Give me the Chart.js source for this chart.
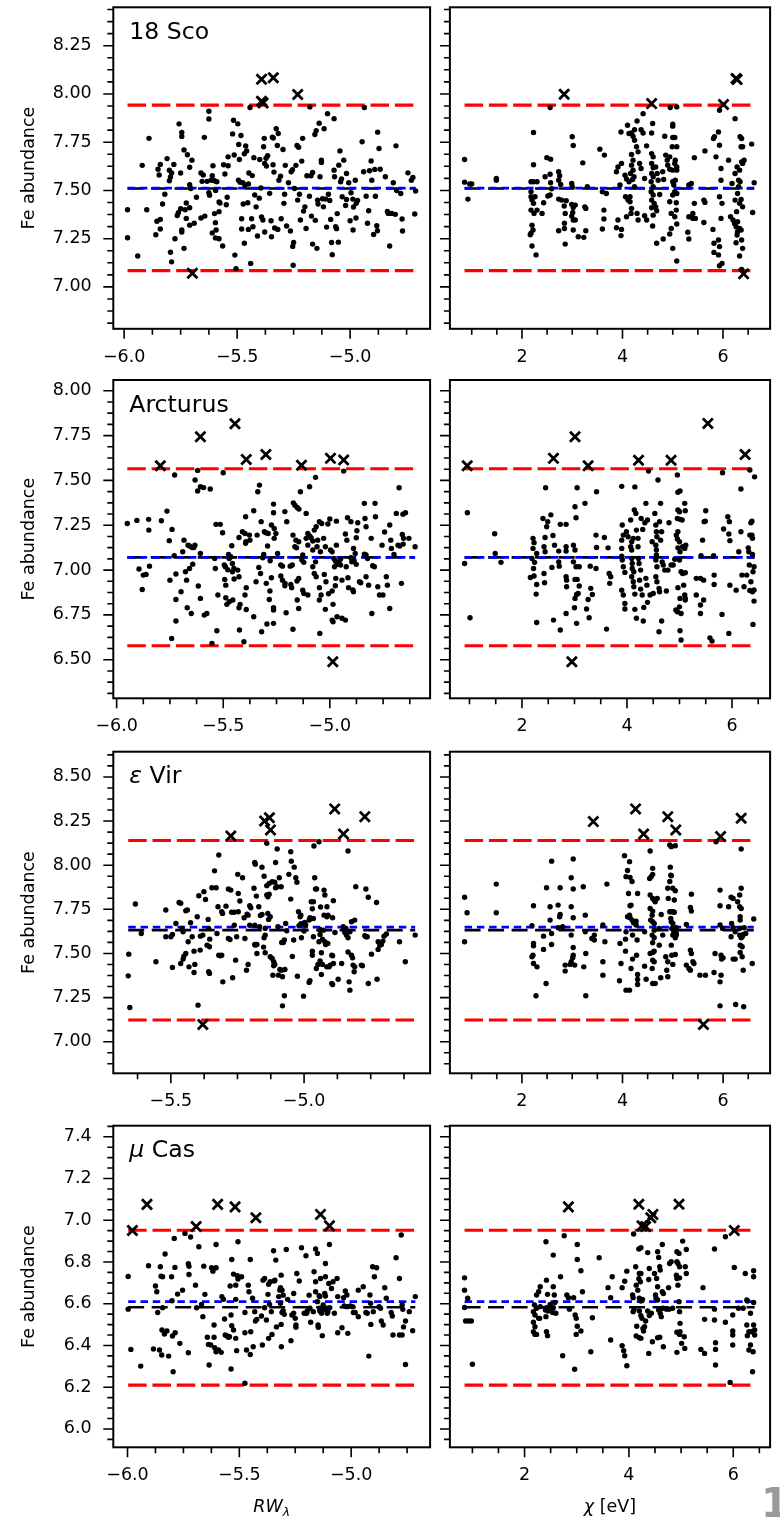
<!DOCTYPE html>
<html><head><meta charset="utf-8">
<script src="https://cdn.jsdelivr.net/npm/chart.js@4.4.0/dist/chart.umd.min.js"></script>
<style>
html,body{margin:0;padding:0;background:#fff;}
body{width:780px;height:1517px;overflow:hidden;position:relative;}
canvas{position:absolute;}
#pg{position:absolute;left:761px;top:1483px;font:bold 40px 'DejaVu Sans';color:#9a9a9a;line-height:1;}
</style></head><body>
<canvas id="c0"></canvas><canvas id="c1"></canvas><canvas id="c2"></canvas><canvas id="c3"></canvas>
<canvas id="c4"></canvas><canvas id="c5"></canvas><canvas id="c6"></canvas><canvas id="c7"></canvas>
<div id="pg">1</div>
<script>
// ---------------- tick labels ----------------
const yTicks18Sco = [7.00, 7.25, 7.50, 7.75, 8.00, 8.25];
const yTicksArcturus = [6.50, 6.75, 7.00, 7.25, 7.50, 7.75, 8.00];
const yTicksEpsVir = [7.00, 7.25, 7.50, 7.75, 8.00, 8.25, 8.50];
const yTicksMuCas = [6.0, 6.2, 6.4, 6.6, 6.8, 7.0, 7.2, 7.4];
const xTicksRw = [-6.0, -5.5, -5.0];
const xTicksChi = [2, 4, 6];

// ---------------- reference levels [upper, black, blue, lower] ----------------
const levels18Sco = [7.942, 7.510, 7.512, 7.084];
const levelsArcturus = [7.565, 7.071, 7.071, 6.578];
const levelsEpsVir = [8.140, 7.632, 7.649, 7.123];
const levelsMuCas = [6.952, 6.583, 6.610, 6.210];

// ---------------- 18 Sco ----------------
const rw18ScoOut = [[-5.698,7.071],[-5.392,8.076],[-5.34,8.084],[-5.392,7.962],[-5.385,7.953],[-5.232,7.997]];
const rw18ScoDots = [[-5.985,7.40],[-5.985,7.255],[-5.94,7.16],[-5.92,7.63],[-5.90,7.40],[-5.89,7.77],[-5.86,7.27],[-5.85,7.61],[-5.845,7.58],[-5.84,7.635],[-5.855,7.34],[-5.84,7.35],[-5.84,7.30],[-5.83,7.43],[-5.82,7.48],[-5.81,7.665],[-5.80,7.605],[-5.80,7.55],[-5.795,7.57],[-5.79,7.59],[-5.78,7.635],[-5.795,7.18],[-5.79,7.13],[-5.775,7.25],[-5.765,7.37],[-5.76,7.385],[-5.757,7.845],[-5.75,7.59],[-5.745,7.80],[-5.745,7.78],[-5.75,7.405],[-5.745,7.295],[-5.745,7.285],[-5.735,7.20],[-5.735,7.71],[-5.73,7.40],[-5.725,7.435],[-5.725,7.355],[-5.72,7.685],[-5.71,7.53],[-5.71,7.62],[-5.705,7.51],[-5.71,7.32],[-5.71,7.41],[-5.70,7.657],[-5.69,7.33],[-5.68,7.465],[-5.66,7.59],[-5.655,7.547],[-5.645,7.775],[-5.65,7.58],[-5.66,7.357],[-5.643,7.367],[-5.633,7.547],[-5.625,7.488],[-5.622,7.475],[-5.625,7.91],[-5.625,7.87],[-5.615,7.553],[-5.61,7.576],[-5.61,7.28],[-5.607,7.628],[-5.6,7.55],[-5.595,7.50],[-5.6,7.38],[-5.596,7.333],[-5.593,7.295],[-5.596,7.254],[-5.59,7.545],[-5.58,7.44],[-5.58,7.39],[-5.58,7.25],[-5.576,7.435],[-5.564,7.212],[-5.56,7.633],[-5.554,7.585],[-5.548,7.426],[-5.544,7.465],[-5.54,7.674],[-5.54,7.628],[-5.52,7.793],[-5.516,7.864],[-5.513,7.684],[-5.51,7.165],[-5.505,7.095],[-5.497,7.845],[-5.493,7.738],[-5.49,7.66],[-5.494,7.553],[-5.487,7.543],[-5.483,7.785],[-5.48,7.353],[-5.48,7.30],[-5.473,7.43],[-5.468,7.226],[-5.475,7.54],[-5.468,7.69],[-5.465,7.527],[-5.462,7.73],[-5.458,7.705],[-5.453,7.436],[-5.45,7.533],[-5.45,7.298],[-5.448,7.59],[-5.443,7.93],[-5.44,7.122],[-5.436,7.353],[-5.433,7.577],[-5.43,7.312],[-5.426,7.67],[-5.422,7.476],[-5.416,7.415],[-5.41,7.264],[-5.402,7.46],[-5.4,7.66],[-5.395,7.513],[-5.392,7.362],[-5.386,7.347],[-5.383,7.726],[-5.38,7.77],[-5.378,7.285],[-5.378,7.64],[-5.372,7.667],[-5.37,7.626],[-5.365,7.68],[-5.356,7.485],[-5.35,7.343],[-5.348,7.26],[-5.344,7.776],[-5.34,7.772],[-5.341,7.633],[-5.337,7.595],[-5.334,7.305],[-5.327,7.82],[-5.322,7.733],[-5.318,7.795],[-5.32,7.298],[-5.315,7.553],[-5.308,7.574],[-5.305,7.353],[-5.297,7.712],[-5.293,7.433],[-5.29,7.48],[-5.287,7.63],[-5.281,7.316],[-5.273,7.54],[-5.264,7.29],[-5.261,7.597],[-5.255,7.607],[-5.254,7.21],[-5.25,7.23],[-5.252,7.112],[-5.246,7.51],[-5.24,7.63],[-5.235,7.733],[-5.228,7.724],[-5.232,7.45],[-5.224,7.48],[-5.22,7.347],[-5.214,7.652],[-5.21,7.77],[-5.206,7.393],[-5.2,7.415],[-5.195,7.303],[-5.191,7.576],[-5.18,7.47],[-5.178,7.933],[-5.173,7.576],[-5.166,7.593],[-5.171,7.367],[-5.166,7.222],[-5.156,7.79],[-5.15,7.81],[-5.154,7.345],[-5.147,7.2],[-5.144,7.45],[-5.142,7.43],[-5.137,7.848],[-5.133,7.571],[-5.127,7.645],[-5.127,7.657],[-5.122,7.457],[-5.118,7.415],[-5.115,7.82],[-5.108,7.455],[-5.104,7.31],[-5.1,7.898],[-5.096,7.48],[-5.09,7.448],[-5.086,7.35],[-5.082,7.23],[-5.079,7.167],[-5.071,7.872],[-5.071,7.605],[-5.069,7.571],[-5.064,7.312],[-5.06,7.302],[-5.057,7.38],[-5.052,7.232],[-5.05,7.631],[-5.045,7.705],[-5.042,7.545],[-5.038,7.56],[-5.035,7.467],[-5.028,7.657],[-5.02,7.422],[-5.016,7.453],[-5.016,7.588],[-5.006,7.54],[-5.0,7.343],[-4.996,7.488],[-4.988,7.455],[-4.985,7.414],[-4.977,7.553],[-4.973,7.433],[-4.967,7.448],[-4.987,7.295],[-4.974,7.357],[-4.947,7.752],[-4.94,7.597],[-4.937,7.93],[-4.929,7.47],[-4.923,7.33],[-4.918,7.395],[-4.914,7.602],[-4.907,7.653],[-4.904,7.553],[-4.896,7.272],[-4.891,7.609],[-4.888,7.47],[-4.882,7.317],[-4.879,7.291],[-4.878,7.802],[-4.872,7.717],[-4.867,7.61],[-4.844,7.571],[-4.835,7.391],[-4.831,7.381],[-4.825,7.212],[-4.809,7.54],[-4.797,7.731],[-4.816,7.381],[-4.8,7.376],[-4.794,7.5],[-4.776,7.484],[-4.77,7.352],[-4.768,7.29],[-4.744,7.591],[-4.729,7.553],[-4.722,7.567],[-4.714,7.378],[-4.71,7.497]];
const chi18ScoOut = [[2.84,7.998],[4.58,7.95],[6.01,7.945],[6.26,8.08],[6.28,8.075],[6.41,7.068]];
const chi18ScoDots = [[0.858,7.66],[0.858,7.543],[0.96,7.533],[1.0,7.533],[0.924,7.455],[1.49,7.562],[1.49,7.553],[2.23,7.80],[2.23,7.633],[2.18,7.545],[2.23,7.545],[2.30,7.545],[2.18,7.493],[2.18,7.467],[2.2,7.45],[2.26,7.467],[2.23,7.433],[2.18,7.398],[2.30,7.398],[2.24,7.381],[2.20,7.32],[2.22,7.295],[2.18,7.278],[2.165,7.27],[2.2,7.212],[2.28,7.166],[2.40,7.381],[2.43,7.436],[2.46,7.571],[2.495,7.67],[2.57,7.662],[2.515,7.471],[2.56,7.584],[2.57,7.54],[2.59,7.509],[2.56,7.476],[2.56,7.93],[2.73,7.597],[2.75,7.576],[2.73,7.553],[2.77,7.531],[2.73,7.455],[2.79,7.45],[2.73,7.291],[2.845,7.303],[2.845,7.33],[2.86,7.222],[2.84,7.419],[2.88,7.447],[2.86,7.381],[2.99,7.536],[3.0,7.519],[3.0,7.778],[3.02,7.733],[2.99,7.428],[3.02,7.412],[3.06,7.424],[3.01,7.386],[2.99,7.367],[3.02,7.347],[3.06,7.347],[3.02,7.295],[3.12,7.26],[3.23,7.257],[3.21,7.643],[3.25,7.415],[3.27,7.407],[3.27,7.291],[3.30,7.519],[3.55,7.714],[3.64,7.683],[3.6,7.493],[3.68,7.484],[3.63,7.398],[3.63,7.352],[3.6,7.3],[3.88,7.597],[3.91,7.622],[3.98,7.64],[3.97,7.803],[3.95,7.528],[3.91,7.347],[3.88,7.307],[3.98,7.298],[3.97,7.266],[4.05,7.579],[4.08,7.559],[4.1,7.838],[4.13,7.795],[4.06,7.467],[4.11,7.45],[4.15,7.441],[4.18,7.798],[4.24,7.815],[4.21,7.781],[4.18,7.686],[4.21,7.657],[4.18,7.631],[4.21,7.605],[4.16,7.588],[4.23,7.571],[4.2,7.557],[4.13,7.545],[4.24,7.519],[4.15,7.467],[4.18,7.407],[4.08,7.364],[4.17,7.381],[4.28,7.726],[4.24,7.76],[4.31,7.7],[4.29,7.86],[4.37,7.815],[4.41,7.798],[4.41,7.898],[4.29,7.381],[4.31,7.347],[4.44,7.369],[4.48,7.347],[4.34,7.64],[4.37,7.614],[4.44,7.562],[4.48,7.731],[4.6,7.847],[4.58,7.798],[4.58,7.691],[4.61,7.674],[4.58,7.64],[4.61,7.617],[4.58,7.588],[4.61,7.571],[4.57,7.545],[4.61,7.519],[4.57,7.493],[4.61,7.476],[4.58,7.45],[4.63,7.433],[4.58,7.41],[4.66,7.415],[4.68,7.395],[4.61,7.372],[4.6,7.316],[4.68,7.226],[4.66,7.622],[4.69,7.588],[4.71,7.553],[4.74,7.479],[4.8,7.597],[4.82,7.557],[4.81,7.248],[4.84,7.781],[4.86,7.683],[4.89,7.657],[4.9,7.631],[4.94,7.61],[4.94,7.674],[5.0,7.833],[5.0,7.843],[4.95,7.93],[5.08,7.933],[5.0,7.774],[5.04,7.774],[4.99,7.726],[5.08,7.726],[5.0,7.605],[5.04,7.64],[5.08,7.622],[5.05,7.657],[5.08,7.605],[5.0,7.545],[5.05,7.553],[5.02,7.528],[5.04,7.493],[5.0,7.476],[5.08,7.484],[4.94,7.441],[5.07,7.436],[5.07,7.398],[5.04,7.364],[4.97,7.381],[4.97,7.303],[4.94,7.274],[5.0,7.2],[5.08,7.134],[5.08,7.326],[5.32,7.528],[5.37,7.536],[5.43,7.67],[5.43,7.433],[5.4,7.381],[5.32,7.364],[5.4,7.355],[5.45,7.355],[5.3,7.283],[5.32,7.248],[5.64,7.705],[5.62,7.45],[5.64,7.438],[5.62,7.334],[5.8,7.298],[5.82,7.226],[5.91,7.243],[5.83,7.778],[5.81,7.769],[5.91,7.803],[5.93,7.734],[5.86,7.674],[5.96,7.614],[5.96,7.553],[5.93,7.467],[5.98,7.433],[5.96,7.355],[5.93,7.209],[5.82,7.179],[5.91,7.166],[5.98,7.122],[5.93,7.11],[5.93,7.915],[6.11,7.657],[6.24,7.872],[6.18,7.536],[6.24,7.588],[6.28,7.622],[6.31,7.553],[6.34,7.778],[6.36,7.726],[6.39,7.726],[6.37,7.769],[6.37,7.648],[6.42,7.657],[6.39,7.64],[6.33,7.605],[6.34,7.545],[6.31,7.519],[6.29,7.484],[6.36,7.453],[6.33,7.433],[6.39,7.415],[6.24,7.45],[6.27,7.39],[6.15,7.364],[6.2,7.347],[6.23,7.329],[6.29,7.338],[6.26,7.312],[6.33,7.303],[6.36,7.295],[6.29,7.286],[6.28,7.269],[6.26,7.229],[6.37,7.243],[6.39,7.2],[6.33,7.16],[6.37,7.091],[6.57,7.74],[6.62,7.54],[6.59,7.386]];

// ---------------- Arcturus ----------------
const rwArcturusOut = [[-5.795,7.582],[-5.607,7.744],[-5.445,7.816],[-5.392,7.617],[-5.3,7.645],[-5.133,7.585],[-4.997,7.623],[-4.935,7.614],[-4.986,6.489]];
const rwArcturusDots = [[-5.95,7.26],[-5.905,7.277],[-5.895,7.006],[-5.88,6.892],[-5.875,6.972],[-5.862,6.976],[-5.85,7.283],[-5.849,7.223],[-5.846,7.022],[-5.79,7.275],[-5.764,7.329],[-5.753,7.164],[-5.74,7.227],[-5.75,6.944],[-5.742,6.619],[-5.728,7.53],[-5.73,7.08],[-5.722,6.978],[-5.722,6.836],[-5.722,6.716],[-5.698,6.879],[-5.69,7.102],[-5.684,7.167],[-5.677,6.991],[-5.672,6.944],[-5.669,6.79],[-5.665,7.139],[-5.658,7.134],[-5.65,6.758],[-5.658,7.009],[-5.646,7.126],[-5.638,7.126],[-5.633,7.139],[-5.643,7.033],[-5.632,7.502],[-5.62,7.556],[-5.62,7.441],[-5.607,7.465],[-5.592,7.46],[-5.617,6.911],[-5.607,7.093],[-5.607,6.842],[-5.589,6.749],[-5.577,6.758],[-5.561,7.452],[-5.553,6.591],[-5.54,7.065],[-5.537,7.009],[-5.534,7.255],[-5.514,7.255],[-5.525,6.861],[-5.53,6.662],[-5.503,7.208],[-5.5,7.543],[-5.495,7.028],[-5.49,7.019],[-5.479,7.002],[-5.493,6.948],[-5.488,6.916],[-5.488,6.846],[-5.483,6.809],[-5.472,6.823],[-5.475,7.087],[-5.472,7.065],[-5.465,7.074],[-5.457,7.037],[-5.46,7.136],[-5.457,6.991],[-5.45,7.009],[-5.455,6.833],[-5.449,6.95],[-5.432,7.0],[-5.426,6.963],[-5.426,7.182],[-5.426,6.79],[-5.421,6.809],[-5.424,6.666],[-5.41,7.214],[-5.398,7.204],[-5.394,7.158],[-5.395,7.149],[-5.395,7.297],[-5.398,6.861],[-5.392,6.902],[-5.392,6.78],[-5.403,6.6],[-5.377,7.195],[-5.375,7.167],[-5.357,7.331],[-5.357,6.74],[-5.346,6.935],[-5.341,7.195],[-5.338,7.437],[-5.33,7.474],[-5.333,7.015],[-5.325,6.981],[-5.322,7.27],[-5.32,6.656],[-5.31,7.087],[-5.315,7.069],[-5.307,7.214],[-5.3,7.208],[-5.289,7.204],[-5.292,7.134],[-5.298,6.926],[-5.295,6.699],[-5.284,6.836],[-5.281,6.883],[-5.28,7.052],[-5.274,6.957],[-5.274,7.251],[-5.264,7.368],[-5.264,7.32],[-5.261,7.232],[-5.253,7.204],[-5.261,7.177],[-5.264,6.777],[-5.264,6.79],[-5.264,6.703],[-5.245,7.093],[-5.23,7.028],[-5.222,7.022],[-5.23,6.967],[-5.222,6.944],[-5.21,6.926],[-5.211,6.913],[-5.202,7.27],[-5.211,7.326],[-5.205,6.762],[-5.186,7.022],[-5.183,6.92],[-5.179,6.902],[-5.176,7.028],[-5.173,6.67],[-5.171,7.375],[-5.164,7.362],[-5.153,7.349],[-5.145,7.34],[-5.173,7.195],[-5.159,7.167],[-5.146,7.158],[-5.164,7.13],[-5.156,7.124],[-5.154,6.939],[-5.146,6.953],[-5.153,6.833],[-5.146,6.786],[-5.138,7.437],[-5.131,7.056],[-5.122,7.043],[-5.127,7.084],[-5.127,6.888],[-5.122,6.87],[-5.111,7.316],[-5.103,7.204],[-5.111,7.177],[-5.103,7.139],[-5.095,7.191],[-5.088,7.18],[-5.08,7.162],[-5.095,7.465],[-5.067,7.517],[-5.103,6.861],[-5.08,7.112],[-5.073,7.223],[-5.064,7.242],[-5.08,7.019],[-5.073,6.981],[-5.064,6.963],[-5.067,7.046],[-5.06,7.13],[-5.057,7.167],[-5.049,7.27],[-5.038,7.26],[-5.044,7.102],[-5.049,6.902],[-5.041,6.861],[-5.049,6.833],[-5.047,6.647],[-5.029,7.177],[-5.021,7.13],[-5.026,6.976],[-5.018,6.935],[-5.021,6.781],[-5.009,7.257],[-5.006,6.868],[-5.0,7.285],[-4.997,7.112],[-4.989,7.102],[-4.989,6.883],[-4.985,6.809],[-4.989,6.721],[-4.985,6.712],[-4.981,7.065],[-4.974,7.05],[-4.966,7.032],[-4.978,7.019],[-4.969,7.139],[-4.969,7.273],[-4.972,6.954],[-4.974,6.913],[-4.966,6.74],[-4.958,7.046],[-4.95,7.06],[-4.95,7.028],[-4.943,6.944],[-4.943,6.731],[-4.927,6.721],[-4.935,7.552],[-4.927,7.201],[-4.923,7.019],[-4.92,7.167],[-4.917,7.292],[-4.915,6.957],[-4.912,6.902],[-4.901,7.27],[-4.892,6.889],[-4.889,6.879],[-4.901,7.069],[-4.897,7.046],[-4.889,7.121],[-4.881,7.093],[-4.886,7.052],[-4.876,7.032],[-4.876,7.18],[-4.873,7.219],[-4.869,7.264],[-4.861,6.935],[-4.855,6.929],[-4.838,7.372],[-4.835,7.288],[-4.83,7.242],[-4.838,7.089],[-4.83,7.084],[-4.823,7.065],[-4.83,6.963],[-4.818,6.916],[-4.806,7.177],[-4.803,6.758],[-4.799,7.024],[-4.791,7.019],[-4.788,7.372],[-4.786,7.297],[-4.775,6.907],[-4.767,6.861],[-4.751,6.861],[-4.755,7.139],[-4.743,7.212],[-4.735,6.963],[-4.73,6.916],[-4.719,6.786],[-4.719,7.251],[-4.714,7.167],[-4.711,7.121],[-4.699,7.087],[-4.688,7.316],[-4.68,7.139],[-4.672,7.134],[-4.656,7.145],[-4.675,7.459],[-4.664,6.926],[-4.66,7.199],[-4.654,7.177],[-4.645,7.32],[-4.629,7.177],[-4.6,7.13],[-4.657,7.312]];
const chiArcturusOut = [[0.957,7.582],[2.6,7.623],[3.01,7.744],[3.26,7.582],[4.22,7.613],[4.84,7.613],[5.54,7.818],[6.25,7.645],[2.95,6.489]];
const chiArcturusDots = [[0.96,7.32],[0.907,7.037],[1.01,6.734],[1.48,7.203],[1.49,7.093],[1.6,7.043],[2.21,7.177],[2.23,7.153],[2.21,7.121],[2.19,7.065],[2.24,7.043],[2.22,7.009],[2.16,6.959],[2.23,6.967],[2.28,6.92],[2.27,6.866],[2.28,6.708],[2.28,7.093],[2.4,7.288],[2.49,7.27],[2.47,7.242],[2.44,7.182],[2.42,7.13],[2.44,7.102],[2.42,6.981],[2.43,6.929],[2.57,7.015],[2.45,7.459],[2.55,7.308],[2.59,7.193],[2.62,7.139],[2.7,7.106],[2.6,6.721],[2.73,6.666],[2.84,6.758],[2.7,7.046],[2.71,7.022],[2.84,7.13],[2.84,7.106],[2.73,7.255],[2.84,7.255],[2.84,6.963],[2.85,6.944],[2.85,6.907],[2.98,7.139],[3.01,7.112],[2.98,7.046],[3.03,7.019],[3.01,6.948],[3.05,6.948],[3.09,6.911],[3.01,6.842],[3.04,6.864],[3.07,6.87],[3.0,6.79],[3.01,7.353],[3.03,7.292],[3.05,7.459],[3.04,6.703],[3.09,7.019],[3.2,7.372],[3.23,6.783],[3.26,6.836],[3.28,6.734],[3.3,7.022],[3.31,6.898],[3.34,6.864],[3.41,7.195],[3.42,7.126],[3.41,7.009],[3.42,7.437],[3.57,7.182],[3.61,6.671],[3.64,7.124],[3.66,6.981],[3.69,6.963],[3.67,6.926],[3.9,7.467],[3.91,7.251],[3.9,7.167],[3.9,7.121],[3.93,7.195],[3.9,7.078],[3.91,7.056],[3.93,7.019],[3.96,6.987],[3.9,6.888],[3.93,6.861],[3.96,6.814],[3.96,6.783],[4.02,7.186],[3.99,7.214],[4.07,7.279],[4.09,7.158],[4.07,7.13],[4.09,7.112],[4.12,7.177],[4.09,7.065],[4.1,7.037],[4.1,7.009],[4.13,6.991],[4.09,6.963],[4.12,6.935],[4.13,6.907],[4.15,6.866],[4.14,7.335],[4.15,7.464],[4.17,7.316],[4.15,6.781],[4.18,6.731],[4.18,7.223],[4.21,7.177],[4.21,7.13],[4.22,7.065],[4.23,7.037],[4.26,7.0],[4.24,6.944],[4.26,6.894],[4.29,6.861],[4.27,7.288],[4.3,7.227],[4.34,7.264],[4.32,6.792],[4.31,6.716],[4.36,7.372],[4.39,7.279],[4.36,6.954],[4.38,6.916],[4.39,6.82],[4.44,6.861],[4.41,7.552],[4.5,6.87],[4.48,7.158],[4.53,7.316],[4.55,7.251],[4.56,7.214],[4.57,7.186],[4.55,7.139],[4.56,7.112],[4.56,7.084],[4.55,7.056],[4.57,7.019],[4.55,6.963],[4.57,6.935],[4.61,6.898],[4.62,6.879],[4.59,7.502],[4.61,6.656],[4.64,7.372],[4.66,6.716],[4.62,7.27],[4.66,7.214],[4.64,7.167],[4.67,7.046],[4.69,7.028],[4.72,7.0],[4.75,6.883],[4.8,7.264],[4.78,7.0],[4.84,7.028],[4.88,7.028],[4.91,7.06],[4.94,7.195],[4.96,7.173],[4.97,7.214],[4.97,7.124],[4.96,7.53],[4.97,7.434],[5.01,7.441],[4.97,7.335],[5.0,7.325],[4.96,7.288],[5.01,7.283],[5.05,7.279],[5.0,7.158],[5.01,7.102],[5.06,7.13],[5.1,7.121],[5.12,7.139],[5.0,7.056],[5.03,6.991],[5.06,6.981],[5.11,6.985],[4.97,6.902],[5.01,6.842],[5.08,6.916],[5.1,6.861],[4.93,6.777],[4.96,6.768],[5.0,6.795],[5.03,6.758],[5.11,6.842],[5.11,6.833],[5.01,6.662],[5.03,6.61],[5.1,7.372],[5.11,7.331],[5.32,6.954],[5.4,6.954],[5.46,6.944],[5.32,6.861],[5.4,6.805],[5.4,6.758],[5.46,6.833],[5.44,7.167],[5.47,7.27],[5.49,7.273],[5.41,7.08],[5.5,7.331],[5.58,6.622],[5.62,6.604],[5.65,7.08],[5.66,6.972],[5.66,6.92],[5.81,6.753],[5.82,7.543],[5.84,7.229],[5.92,7.297],[5.95,7.27],[5.94,6.647],[5.94,7.201],[5.96,7.164],[5.96,6.916],[6.08,6.888],[6.13,7.102],[6.17,7.452],[6.17,7.214],[6.19,6.972],[6.23,6.907],[6.28,6.972],[6.31,7.124],[6.32,7.102],[6.33,7.028],[6.34,7.558],[6.34,7.195],[6.36,7.264],[6.38,7.273],[6.36,6.935],[6.34,6.886],[6.38,7.195],[6.39,7.177],[6.39,7.087],[6.42,7.019],[6.4,6.991],[6.39,6.879],[6.42,6.889],[6.43,7.52],[6.42,6.827],[6.4,6.697]];

// ---------------- eps Vir ----------------
const rwEpsVirOut = [[-5.275,8.165],[-5.148,8.25],[-5.13,8.269],[-5.126,8.2],[-4.885,8.319],[-4.852,8.177],[-4.772,8.275],[-5.38,7.097]];
const rwEpsVirDots = [[-5.66,7.373],[-5.658,7.496],[-5.654,7.194],[-5.633,7.78],[-5.611,7.613],[-5.556,7.453],[-5.519,7.746],[-5.519,7.595],[-5.5,7.595],[-5.494,7.608],[-5.494,7.421],[-5.469,7.789],[-5.463,7.784],[-5.481,7.67],[-5.458,7.642],[-5.454,7.623],[-5.463,7.443],[-5.454,7.468],[-5.451,7.485],[-5.444,7.5],[-5.444,7.742],[-5.438,7.746],[-5.435,7.566],[-5.426,7.674],[-5.432,7.424],[-5.42,7.595],[-5.413,7.513],[-5.413,7.392],[-5.41,7.438],[-5.401,7.708],[-5.398,7.207],[-5.395,7.827],[-5.39,7.519],[-5.389,7.598],[-5.38,7.604],[-5.376,7.85],[-5.37,7.806],[-5.364,7.547],[-5.36,7.693],[-5.358,7.642],[-5.354,7.581],[-5.355,7.538],[-5.358,7.396],[-5.355,7.387],[-5.346,7.872],[-5.33,7.872],[-5.32,8.058],[-5.327,7.613],[-5.32,7.49],[-5.315,7.487],[-5.309,7.49],[-5.336,7.968],[-5.323,7.765],[-5.309,7.736],[-5.306,7.727],[-5.305,7.339],[-5.293,7.768],[-5.284,7.865],[-5.275,7.859],[-5.284,7.585],[-5.278,7.579],[-5.272,7.733],[-5.262,7.733],[-5.247,7.736],[-5.268,7.362],[-5.262,7.66],[-5.257,7.462],[-5.253,7.595],[-5.249,7.948],[-5.247,7.84],[-5.241,7.797],[-5.231,7.929],[-5.225,7.702],[-5.222,7.585],[-5.216,7.405],[-5.21,7.438],[-5.214,7.723],[-5.21,7.717],[-5.204,7.77],[-5.2,7.759],[-5.204,7.66],[-5.188,7.869],[-5.185,8.015],[-5.185,7.66],[-5.185,7.551],[-5.183,7.547],[-5.177,7.551],[-5.183,8.006],[-5.179,7.825],[-5.177,7.5],[-5.17,7.765],[-5.167,7.651],[-5.164,7.715],[-5.158,7.721],[-5.158,7.989],[-5.152,7.536],[-5.15,7.938],[-5.15,7.589],[-5.146,7.642],[-5.146,7.604],[-5.146,7.504],[-5.14,8.124],[-5.14,7.831],[-5.136,7.821],[-5.131,7.835],[-5.14,7.884],[-5.136,7.727],[-5.131,7.897],[-5.133,7.693],[-5.127,7.708],[-5.127,7.481],[-5.12,7.472],[-5.114,7.453],[-5.11,7.438],[-5.114,7.43],[-5.12,7.906],[-5.11,7.903],[-5.117,7.377],[-5.107,8.015],[-5.107,7.872],[-5.101,7.878],[-5.101,8.092],[-5.098,7.651],[-5.096,7.377],[-5.093,7.929],[-5.086,7.878],[-5.091,7.409],[-5.085,7.405],[-5.084,7.562],[-5.081,7.368],[-5.078,7.562],[-5.074,7.576],[-5.081,7.203],[-5.074,7.26],[-5.072,7.409],[-5.069,7.67],[-5.065,7.629],[-5.057,7.948],[-5.05,7.808],[-5.05,8.076],[-5.048,8.023],[-5.044,7.483],[-5.039,7.576],[-5.037,7.989],[-5.031,7.929],[-5.027,7.903],[-5.025,7.371],[-5.021,7.736],[-5.015,7.708],[-5.012,7.717],[-5.019,7.657],[-5.012,7.668],[-5.01,7.589],[-5.002,7.258],[-5.0,7.627],[-4.998,7.676],[-4.994,7.661],[-4.981,7.336],[-4.978,7.345],[-4.981,7.689],[-4.978,7.702],[-4.973,7.698],[-4.969,7.753],[-4.965,7.698],[-4.973,7.793],[-4.965,7.793],[-4.969,7.513],[-4.969,7.49],[-4.965,7.595],[-4.963,8.109],[-4.96,7.929],[-4.957,7.865],[-4.953,7.865],[-4.954,7.415],[-4.948,7.438],[-4.944,8.133],[-4.94,7.608],[-4.944,7.566],[-4.94,7.636],[-4.935,7.504],[-4.931,7.581],[-4.927,7.632],[-4.925,7.717],[-4.938,7.763],[-4.94,7.457],[-4.931,7.438],[-4.935,7.381],[-4.925,7.859],[-4.922,7.831],[-4.922,7.566],[-4.919,7.551],[-4.915,7.424],[-4.906,7.424],[-4.902,7.434],[-4.914,7.708],[-4.91,7.717],[-4.914,7.765],[-4.911,7.557],[-4.896,7.49],[-4.893,7.487],[-4.89,7.443],[-4.896,7.33],[-4.893,7.324],[-4.89,7.799],[-4.893,7.702],[-4.884,7.619],[-4.872,7.354],[-4.859,7.443],[-4.853,7.651],[-4.847,7.642],[-4.843,7.642],[-4.847,7.619],[-4.841,7.604],[-4.835,7.589],[-4.835,8.08],[-4.835,7.508],[-4.831,7.339],[-4.828,7.292],[-4.828,7.623],[-4.822,7.68],[-4.822,7.49],[-4.816,7.434],[-4.818,7.475],[-4.812,7.396],[-4.81,7.424],[-4.81,7.689],[-4.806,7.878],[-4.785,7.434],[-4.781,7.43],[-4.772,7.6],[-4.768,7.595],[-4.763,7.595],[-4.768,7.865],[-4.759,7.818],[-4.759,7.33],[-4.747,7.496],[-4.728,7.789],[-4.722,7.566],[-4.726,7.354],[-4.722,7.523],[-4.716,7.547],[-4.71,7.551],[-4.704,7.57],[-4.7,7.598],[-4.691,7.61],[-4.642,7.566],[-4.62,7.453],[-4.583,7.604]];
const chiEpsVirOut = [[3.42,8.247],[4.26,8.319],[4.42,8.177],[4.9,8.275],[5.06,8.2],[5.95,8.162],[6.36,8.266],[5.61,7.097]];
const chiEpsVirDots = [[0.86,7.818],[0.91,7.731],[0.86,7.566],[1.49,7.893],[1.49,7.731],[2.23,7.77],[2.2,7.657],[2.23,7.557],[2.23,7.543],[2.22,7.49],[2.2,7.481],[2.23,7.443],[2.3,7.424],[2.28,7.26],[2.43,7.598],[2.49,7.872],[2.48,7.33],[2.43,7.523],[2.56,7.765],[2.56,7.689],[2.59,7.613],[2.59,7.551],[2.59,8.023],[2.72,7.774],[2.76,7.721],[2.75,7.708],[2.76,7.872],[2.72,7.646],[2.86,7.434],[2.96,7.438],[3.05,7.434],[2.86,7.4],[2.81,7.651],[2.98,7.929],[3.02,8.035],[3.02,7.865],[2.98,7.765],[3.02,7.702],[2.98,7.604],[3.02,7.534],[3.02,7.49],[3.01,7.475],[2.98,7.453],[3.22,7.878],[3.26,7.717],[3.26,7.623],[3.27,7.5],[3.23,7.424],[3.27,7.26],[3.39,7.585],[3.44,7.604],[3.44,7.576],[3.61,7.661],[3.65,7.566],[3.61,7.453],[3.61,7.377],[3.69,7.893],[3.95,7.557],[3.97,7.443],[3.94,7.345],[4.04,8.054],[4.07,7.935],[4.1,7.97],[4.14,8.02],[4.15,7.931],[4.07,7.623],[4.06,7.581],[4.06,7.513],[4.1,7.708],[4.14,7.717],[4.15,7.702],[4.19,7.689],[4.15,7.77],[4.17,7.774],[4.12,7.84],[4.14,7.292],[4.07,7.292],[4.19,7.908],[4.3,7.84],[4.2,7.604],[4.22,7.674],[4.27,7.683],[4.17,7.415],[4.2,7.468],[4.28,7.49],[4.29,7.576],[4.27,7.661],[4.3,7.381],[4.3,7.353],[4.3,7.324],[4.44,7.428],[4.47,7.354],[4.44,7.623],[4.55,8.08],[4.57,7.935],[4.54,7.925],[4.6,7.982],[4.6,7.948],[4.55,7.831],[4.6,7.812],[4.63,7.803],[4.65,7.793],[4.55,7.755],[4.6,7.74],[4.59,7.717],[4.56,7.689],[4.6,7.68],[4.63,7.67],[4.59,7.604],[4.63,7.589],[4.6,7.561],[4.63,7.632],[4.55,7.5],[4.6,7.506],[4.63,7.513],[4.6,7.462],[4.63,7.453],[4.59,7.415],[4.6,7.33],[4.65,7.33],[4.69,7.812],[4.73,7.642],[4.73,7.547],[4.76,7.362],[4.77,7.721],[4.8,7.604],[4.86,7.481],[4.9,7.453],[4.88,7.405],[4.9,7.368],[4.9,7.869],[4.91,7.812],[4.94,8.114],[4.97,8.105],[4.95,7.989],[4.97,7.94],[4.96,7.944],[4.94,7.908],[4.94,7.736],[4.97,7.736],[5.0,7.736],[5.03,7.733],[4.96,7.698],[4.97,7.68],[5.0,7.67],[4.98,7.642],[5.02,7.623],[5.0,7.604],[5.05,7.589],[5.07,7.604],[4.97,7.547],[5.0,7.869],[5.05,7.855],[5.03,7.803],[5.05,8.11],[4.98,7.49],[5.05,7.494],[5.0,7.438],[5.07,7.646],[5.07,7.613],[5.27,7.434],[5.32,7.415],[5.35,7.405],[5.35,7.519],[5.37,7.5],[5.37,7.836],[5.35,7.76],[5.37,7.74],[5.4,7.453],[5.42,7.443],[5.27,7.664],[5.54,7.377],[5.65,7.377],[5.82,7.392],[5.84,7.5],[5.86,8.133],[5.94,7.859],[5.94,7.77],[5.94,7.661],[5.99,7.642],[5.96,7.49],[6.0,7.475],[5.97,7.468],[5.96,7.377],[5.94,7.339],[5.94,7.203],[6.11,7.765],[6.16,7.818],[6.2,7.812],[6.17,7.67],[6.2,7.646],[6.24,7.623],[6.16,7.595],[6.2,7.468],[6.24,7.468],[6.25,7.211],[6.29,7.793],[6.33,7.765],[6.36,7.755],[6.34,7.708],[6.33,7.831],[6.36,7.869],[6.34,7.689],[6.33,7.642],[6.33,7.604],[6.36,7.589],[6.38,7.595],[6.4,7.608],[6.34,7.547],[6.38,7.538],[6.34,7.506],[6.38,7.481],[6.36,8.092],[6.4,7.405],[6.41,7.198],[6.45,7.613],[6.42,7.646],[6.61,7.695],[6.58,7.443]];

// ---------------- mu Cas ----------------
const rwMuCasOut = [[-5.978,6.951],[-5.913,7.076],[-5.693,6.97],[-5.597,7.076],[-5.519,7.064],[-5.426,7.012],[-5.137,7.028],[-5.097,6.973]];
const rwMuCasDots = [[-5.997,6.731],[-5.997,6.574],[-5.985,6.381],[-5.941,6.301],[-5.906,6.782],[-5.884,6.383],[-5.875,6.685],[-5.869,6.657],[-5.865,6.558],[-5.857,6.378],[-5.853,6.777],[-5.85,6.732],[-5.843,6.729],[-5.847,6.354],[-5.816,6.349],[-5.846,6.474],[-5.835,6.455],[-5.824,6.469],[-5.843,6.581],[-5.832,6.838],[-5.803,6.729],[-5.801,6.614],[-5.799,6.445],[-5.787,6.461],[-5.796,6.274],[-5.791,6.913],[-5.788,6.774],[-5.776,6.646],[-5.766,6.41],[-5.754,6.665],[-5.743,6.937],[-5.728,6.365],[-5.728,6.792],[-5.725,6.779],[-5.725,6.74],[-5.718,6.92],[-5.696,6.689],[-5.691,6.581],[-5.681,6.873],[-5.669,6.597],[-5.663,6.538],[-5.659,6.78],[-5.654,6.645],[-5.643,6.439],[-5.638,6.405],[-5.635,6.306],[-5.628,6.402],[-5.613,6.439],[-5.624,6.772],[-5.618,6.756],[-5.604,6.772],[-5.613,6.498],[-5.61,6.389],[-5.604,6.37],[-5.593,6.378],[-5.581,6.367],[-5.604,6.884],[-5.578,6.634],[-5.571,6.621],[-5.566,6.527],[-5.563,6.45],[-5.556,6.447],[-5.549,6.439],[-5.544,6.442],[-5.541,6.685],[-5.537,6.546],[-5.537,6.287],[-5.534,6.812],[-5.526,6.742],[-5.534,6.495],[-5.526,6.474],[-5.516,6.689],[-5.509,6.734],[-5.506,6.718],[-5.516,6.434],[-5.512,6.375],[-5.516,6.621],[-5.506,6.897],[-5.49,6.729],[-5.475,6.461],[-5.475,6.558],[-5.468,6.378],[-5.451,6.357],[-5.46,6.689],[-5.457,6.657],[-5.451,6.812],[-5.449,6.466],[-5.441,6.626],[-5.438,6.394],[-5.431,6.562],[-5.428,6.517],[-5.422,6.525],[-5.401,6.541],[-5.397,6.402],[-5.394,6.713],[-5.387,6.721],[-5.387,6.581],[-5.379,6.522],[-5.372,6.645],[-5.369,6.693],[-5.362,6.705],[-5.365,6.597],[-5.357,6.562],[-5.369,6.434],[-5.354,6.453],[-5.347,6.854],[-5.337,6.809],[-5.344,6.709],[-5.341,6.713],[-5.334,6.489],[-5.324,6.634],[-5.319,6.665],[-5.316,6.677],[-5.309,6.665],[-5.304,6.641],[-5.316,6.602],[-5.309,6.558],[-5.299,6.549],[-5.313,6.737],[-5.313,6.501],[-5.312,6.394],[-5.304,6.566],[-5.29,6.86],[-5.284,6.621],[-5.269,6.423],[-5.265,6.546],[-5.257,6.554],[-5.257,6.649],[-5.25,6.53],[-5.247,6.498],[-5.247,6.487],[-5.243,6.745],[-5.232,6.709],[-5.222,6.868],[-5.21,6.554],[-5.199,6.554],[-5.196,6.565],[-5.202,6.83],[-5.188,6.641],[-5.184,6.578],[-5.181,6.511],[-5.169,6.562],[-5.166,6.753],[-5.159,6.705],[-5.159,6.657],[-5.159,6.862],[-5.151,6.841],[-5.151,6.61],[-5.148,6.498],[-5.147,6.487],[-5.143,6.638],[-5.14,6.634],[-5.141,6.578],[-5.14,6.565],[-5.132,6.554],[-5.137,6.721],[-5.129,6.447],[-5.125,6.594],[-5.122,6.573],[-5.118,6.649],[-5.115,6.637],[-5.115,6.729],[-5.115,6.793],[-5.11,6.578],[-5.107,6.554],[-5.104,6.562],[-5.1,6.697],[-5.097,6.884],[-5.096,6.581],[-5.088,6.673],[-5.081,6.705],[-5.075,6.554],[-5.063,6.721],[-5.06,6.634],[-5.06,6.461],[-5.041,6.485],[-5.034,6.629],[-5.031,6.589],[-5.026,6.661],[-5.019,6.642],[-5.019,6.586],[-5.015,6.458],[-5.004,6.589],[-4.993,6.586],[-4.99,6.558],[-4.982,6.558],[-4.968,6.665],[-4.968,6.538],[-4.946,6.681],[-4.934,6.558],[-4.928,6.554],[-4.921,6.349],[-4.916,6.642],[-4.913,6.602],[-4.912,6.501],[-4.904,6.777],[-4.896,6.729],[-4.886,6.772],[-4.901,6.562],[-4.875,6.586],[-4.869,6.578],[-4.865,6.517],[-4.857,6.498],[-4.85,6.677],[-4.843,6.626],[-4.821,6.558],[-4.816,6.541],[-4.813,6.45],[-4.784,6.45],[-4.772,6.45],[-4.799,6.82],[-4.784,6.721],[-4.776,6.929],[-4.772,6.594],[-4.769,6.573],[-4.766,6.489],[-4.757,6.517],[-4.757,6.309],[-4.74,6.562],[-4.725,6.471],[-4.713,6.634],[-5.475,6.219]];
const chiMuCasOut = [[2.84,7.064],[4.19,7.077],[4.25,6.973],[4.32,6.97],[4.42,7.012],[4.46,7.028],[4.96,7.077],[6.02,6.951]];
const chiMuCasDots = [[0.85,6.724],[0.85,6.665],[0.91,6.626],[0.85,6.582],[0.87,6.517],[0.93,6.517],[0.98,6.517],[1.0,6.31],[2.19,6.594],[2.23,6.578],[2.17,6.562],[2.2,6.546],[2.27,6.53],[2.17,6.511],[2.2,6.49],[2.17,6.466],[2.2,6.453],[2.23,6.453],[2.23,6.642],[2.27,6.657],[2.3,6.681],[2.3,6.586],[2.29,6.53],[2.41,6.897],[2.42,6.713],[2.44,6.645],[2.4,6.57],[2.42,6.581],[2.45,6.565],[2.41,6.538],[2.42,6.466],[2.44,6.447],[2.49,6.597],[2.52,6.578],[2.55,6.581],[2.55,6.833],[2.55,6.681],[2.57,6.642],[2.54,6.558],[2.6,6.554],[2.58,6.606],[2.69,6.729],[2.76,6.926],[2.73,6.351],[2.81,6.642],[2.84,6.629],[2.86,6.574],[2.94,6.629],[2.97,6.546],[2.99,6.53],[3.01,6.884],[3.01,6.812],[3.08,6.758],[3.01,6.492],[2.99,6.453],[3.08,6.469],[2.96,6.286],[3.11,6.657],[3.27,6.37],[3.3,6.533],[3.43,6.82],[3.6,6.677],[3.65,6.426],[3.65,6.629],[3.68,6.729],[3.87,6.399],[3.9,6.375],[3.92,6.351],[3.96,6.303],[3.87,6.677],[3.92,6.708],[3.96,6.756],[4.07,6.642],[4.08,6.629],[4.1,6.573],[4.08,6.562],[4.09,6.934],[4.13,6.777],[4.14,6.689],[4.17,6.665],[4.19,6.72],[4.15,6.492],[4.14,6.445],[4.19,6.862],[4.23,6.868],[4.2,6.745],[4.23,6.745],[4.22,6.705],[4.2,6.626],[4.23,6.613],[4.26,6.621],[4.2,6.565],[4.23,6.543],[4.25,6.53],[4.2,6.437],[4.23,6.434],[4.27,6.481],[4.3,6.49],[4.32,6.517],[4.28,6.469],[4.36,6.845],[4.38,6.716],[4.39,6.769],[4.36,6.565],[4.39,6.543],[4.43,6.554],[4.38,6.362],[4.45,6.418],[4.49,6.745],[4.53,6.721],[4.55,6.681],[4.51,6.642],[4.52,6.626],[4.55,6.618],[4.55,6.849],[4.57,6.822],[4.57,6.57],[4.6,6.554],[4.62,6.538],[4.59,6.777],[4.6,6.761],[4.55,6.437],[4.59,6.439],[4.64,6.884],[4.64,6.657],[4.66,6.649],[4.65,6.578],[4.72,6.574],[4.77,6.574],[4.66,6.394],[4.76,6.677],[4.78,6.793],[4.81,6.801],[4.84,6.578],[4.92,6.801],[4.94,6.793],[4.97,6.777],[4.92,6.849],[4.96,6.841],[4.91,6.737],[4.94,6.689],[4.92,6.721],[4.97,6.724],[4.96,6.61],[4.97,6.562],[4.98,6.506],[4.92,6.463],[4.97,6.453],[4.98,6.466],[4.92,6.367],[5.01,6.41],[5.07,6.386],[5.06,6.442],[5.03,6.9],[5.1,6.86],[5.08,6.777],[5.1,6.745],[5.42,6.677],[5.45,6.525],[5.38,6.381],[5.45,6.362],[5.64,6.862],[5.64,6.574],[5.64,6.522],[5.66,6.413],[5.66,6.381],[5.66,6.306],[5.85,6.921],[5.85,6.511],[5.94,6.223],[5.99,6.546],[5.99,6.469],[5.99,6.45],[5.99,6.402],[6.02,6.774],[6.1,6.578],[6.19,6.578],[6.23,6.745],[6.26,6.618],[6.27,6.613],[6.26,6.498],[6.27,6.447],[6.3,6.466],[6.33,6.554],[6.35,6.466],[6.3,6.378],[6.38,6.37],[6.33,6.402],[6.39,6.758],[6.39,6.729],[6.39,6.606],[6.39,6.498],[6.41,6.474],[6.41,6.45],[6.37,6.274]];

// ---------------- layout ----------------
Chart.defaults.font.family = "'DejaVu Sans'";
Chart.defaults.color = '#000';
const FS = 17.5;

const rows = [
  {name:[['18 Sco',false]], frameTop:7.3, frameBottom:328.8, yMin:6.783, yMax:8.449, yTicks:yTicks18Sco, yDec:2, levels:levels18Sco,
   L:{xMin:-6.048, xMax:-4.646, dots:rw18ScoDots, out:rw18ScoOut}, R:{xMin:0.566, xMax:6.937, dots:chi18ScoDots, out:chi18ScoOut}},
  {name:[['Arcturus',false]], frameTop:380, frameBottom:698.3, yMin:6.285, yMax:8.06, yTicks:yTicksArcturus, yDec:2, levels:levelsArcturus,
   L:{xMin:-6.0157, xMax:-4.5296, dots:rwArcturusDots, out:rwArcturusOut}, R:{xMin:0.627, xMax:6.726, dots:chiArcturusDots, out:chiArcturusOut}},
  {name:[['\u03b5',true],[' Vir',false]], frameTop:751.7, frameBottom:1073.3, yMin:6.821, yMax:8.643, yTicks:yTicksEpsVir, yDec:2, levels:levelsEpsVir,
   L:{xMin:-5.716, xMax:-4.527, dots:rwEpsVirDots, out:rwEpsVirOut}, R:{xMin:0.568, xMax:6.935, dots:chiEpsVirDots, out:chiEpsVirOut}},
  {name:[['\u03bc',true],[' Cas',false]], frameTop:1125.7, frameBottom:1447.3, yMin:5.912, yMax:7.453, yTicks:yTicksMuCas, yDec:1, levels:levelsMuCas, last:true,
   L:{xMin:-6.0635, xMax:-4.647, dots:rwMuCasDots, out:rwMuCasOut}, R:{xMin:0.569, xMax:6.706, dots:chiMuCasDots, out:chiMuCasOut}}
];

function minorTicks(majors, min, max) {
  const step = majors[1] - majors[0], ms = step / 4, res = [];
  for (let n = Math.ceil(min / ms - 1e-9); n * ms <= max + 1e-9; n++) {
    const v = n * ms, r = v / step;
    if (Math.abs(r - Math.round(r)) > 1e-6) res.push(v);
  }
  return res;
}

function richText(ctx, parts, x, y, size, align) {
  let total = 0;
  parts.forEach(([t, it, s]) => { ctx.font = (it ? 'italic ' : '') + (s || size) + "px 'DejaVu Sans'"; total += ctx.measureText(t).width; });
  let cx = align === 'center' ? x - total / 2 : x;
  parts.forEach(([t, it, s, dy]) => {
    ctx.font = (it ? 'italic ' : '') + (s || size) + "px 'DejaVu Sans'";
    ctx.fillText(t, cx, y + (dy || 0));
    cx += ctx.measureText(t).width;
  });
}

function makePanel(id, row, side) {
  const isLeft = side === 'L';
  const p = row[side];
  const cv = document.getElementById(id);
  const cLeft = isLeft ? 0 : 440, cWidth = isLeft ? 440 : 340;
  const frameL = isLeft ? 113.3 : 449.3, frameR = isLeft ? 434.3 : 771;
  const cTop = Math.round(row.frameTop) - 20;
  const padTop = row.frameTop - cTop;
  const cHeight = row.last ? 1517 - cTop : Math.ceil(row.frameBottom - cTop + 42);
  const xH = cHeight - (row.frameBottom - cTop);
  cv.width = cWidth; cv.height = cHeight;
  cv.style.left = cLeft + 'px'; cv.style.top = cTop + 'px';
  cv.style.width = cWidth + 'px'; cv.style.height = cHeight + 'px';

  const xMaj = (isLeft ? xTicksRw : xTicksChi).filter(v => v >= p.xMin && v <= p.xMax);
  const xMajAll = isLeft ? xTicksRw : xTicksChi;
  const yMaj = row.yTicks.filter(v => v >= row.yMin && v <= row.yMax);
  const xMin = minorTicks(xMajAll, p.xMin, p.xMax);
  const yMin = minorTicks(row.yTicks, row.yMin, row.yMax);

  const xs = p.dots.concat(p.out).map(d => d[0]);
  const lx0 = Math.min(...xs), lx1 = Math.max(...xs);
  const hl = (v, color, w, dash, order) => ({type:'line', data:[{x:lx0, y:v}, {x:lx1, y:v}], borderColor:color, borderWidth:w,
    borderDash:dash, borderCapStyle:'butt', pointRadius:0, fill:false, tension:0, order});
  const [up, blk, blu, lo] = row.levels;

  const decor = {
    id: 'decor' + id,
    afterDatasetsDraw(chart) {
      const {ctx, chartArea: a, scales: {x, y}} = chart;
      ctx.save();
      ctx.strokeStyle = '#000';
      ctx.lineWidth = 1.6;
      ctx.beginPath();
      xMaj.forEach(v => { const px = x.getPixelForValue(v); ctx.moveTo(px, a.bottom); ctx.lineTo(px, a.bottom + 10); });
      xMin.forEach(v => { const px = x.getPixelForValue(v); ctx.moveTo(px, a.bottom); ctx.lineTo(px, a.bottom + 6); });
      yMaj.forEach(v => { const py = y.getPixelForValue(v); ctx.moveTo(a.left, py); ctx.lineTo(a.left - 10, py); });
      yMin.forEach(v => { const py = y.getPixelForValue(v); ctx.moveTo(a.left, py); ctx.lineTo(a.left - 6, py); });
      ctx.stroke();
      ctx.lineWidth = 2;
      ctx.strokeRect(a.left, a.top, a.right - a.left, a.bottom - a.top);
      ctx.fillStyle = '#000';
      ctx.textBaseline = 'alphabetic';
      ctx.textAlign = 'left';
      if (isLeft) richText(ctx, row.name, a.left + 16, a.top + 31.5, 23.6, 'left');
      if (row.last) {
        const cx = (a.left + a.right) / 2, by = a.bottom + 65;
        if (isLeft) richText(ctx, [['RW', true], ['\u03bb', true, 12.3, 3.6]], cx, by, FS, 'center');
        else richText(ctx, [['\u03c7', true], [' [eV]', false]], cx, by, FS, 'center');
      }
      ctx.restore();
    }
  };

  new Chart(cv, {
    type: 'scatter',
    data: { datasets: [
      {data: p.dots.map(([x, y]) => ({x, y})), pointStyle:'circle', pointRadius:2.7, backgroundColor:'#000', borderWidth:0, order:0},
      {data: p.out.map(([x, y]) => ({x, y})), pointStyle:'crossRot', pointRadius:7.1, borderColor:'#000', backgroundColor:'#000', borderWidth:2.8, order:0},
      hl(blu, '#0000ff', 2.7, [7.5, 4.8], 1),
      hl(blk, '#000000', 2.6, [16, 7.5], 2),
      hl(up, '#ff0000', 3.2, [18.5, 5.8], 3),
      hl(lo, '#ff0000', 3.2, [18.5, 5.8], 3)
    ]},
    options: {
      responsive: false, animation: false, events: [],
      layout: { padding: { left: 0, right: cWidth - (frameR - cLeft), top: padTop, bottom: 0 } },
      plugins: { legend: {display:false}, tooltip: {enabled:false} },
      scales: {
        x: { type:'linear', min:p.xMin, max:p.xMax,
          afterBuildTicks: s => { s.ticks = xMaj.map(v => ({value:v})); },
          afterFit: s => { s.height = xH; },
          grid: {display:false, drawTicks:true, tickLength:18},
          border: {display:false},
          ticks: {padding:0, color:'#000', font:{size:FS}, maxRotation:0, autoSkip:false,
            callback: v => isLeft ? v.toFixed(1).replace('-', '\u2212') : String(v)} },
        y: { type:'linear', min:row.yMin, max:row.yMax,
          afterBuildTicks: s => { s.ticks = yMaj.map(v => ({value:v})); },
          afterFit: s => { s.width = frameL - cLeft; },
          grid: {display:false, drawTicks:true, tickLength:21.6},
          border: {display:false},
          ticks: {display:isLeft, padding:0, color:'#000', font:{size:FS}, autoSkip:false,
            callback: v => v.toFixed(row.yDec)},
          title: {display:isLeft, text:'Fe abundance', color:'#000', font:{size:FS}, padding:{top:18.5, bottom:0}} }
      }
    },
    plugins: [decor]
  });
}

rows.forEach((r, i) => { makePanel('c' + (2 * i), r, 'L'); makePanel('c' + (2 * i + 1), r, 'R'); });
</script>
</body></html>
